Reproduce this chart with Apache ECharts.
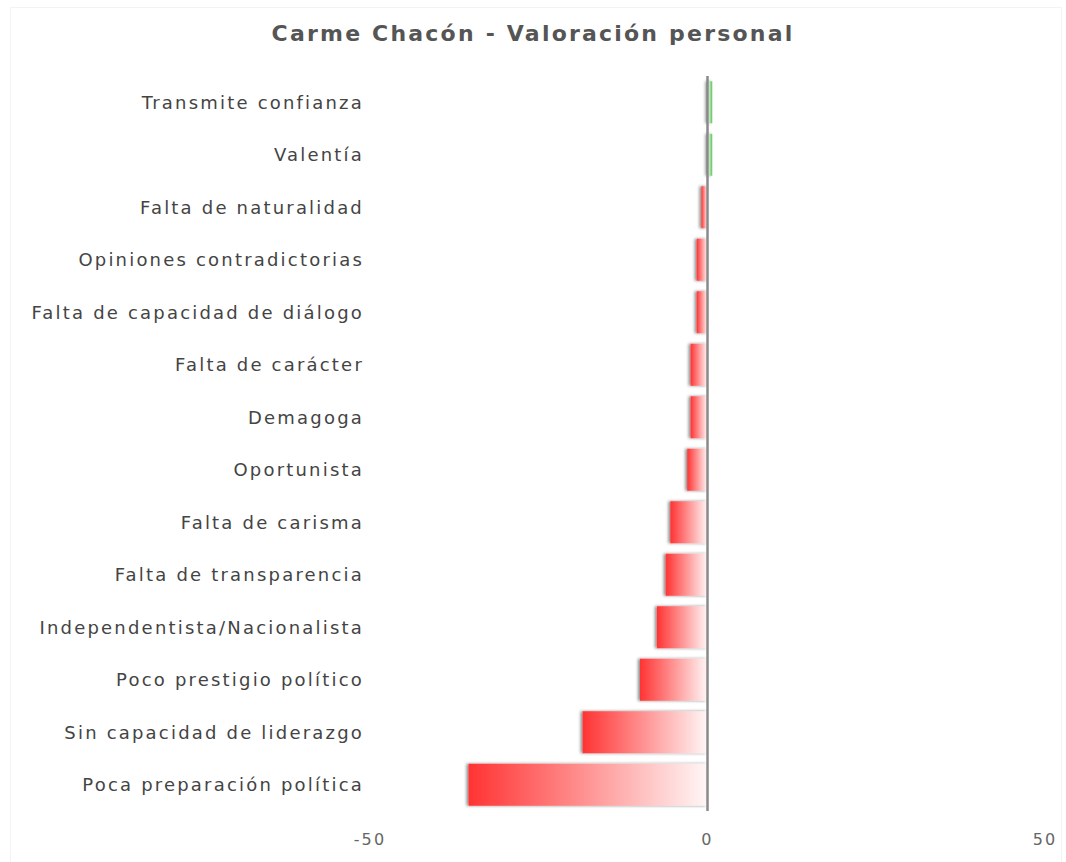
<!DOCTYPE html>
<html>
<head>
<meta charset="utf-8">
<script src="https://cdn.jsdelivr.net/npm/echarts@6/dist/echarts.min.js"></script>
<style>
html,body{margin:0;padding:0;background:#fff;}
#frame{position:absolute;left:10px;top:7px;width:1052px;height:860px;border:1px solid #f3f3f3;box-sizing:border-box;}
#chart{position:absolute;left:0;top:0;width:1066px;height:862px;}
#chart text{letter-spacing:2.2px;}
</style>
</head>
<body>
<div id="frame"></div>
<div id="chart"></div>
<script>
const categories = [
  'Transmite confianza',
  'Valentía',
  'Falta de naturalidad',
  'Opiniones contradictorias',
  'Falta de capacidad de diálogo',
  'Falta de carácter',
  'Demagoga',
  'Oportunista',
  'Falta de carisma',
  'Falta de transparencia',
  'Independentista/Nacionalista',
  'Poco prestigio político',
  'Sin capacidad de liderazgo',
  'Poca preparación política'
];
const values = [0.7, 0.7, -0.9, -1.6, -1.6, -2.5, -2.5, -3, -5.5, -6.2, -7.5, -10, -18.5, -35.4];
const xTicks = [-50, 0, 50];

const redGrad = new echarts.graphic.LinearGradient(0, 0, 1, 0, [
  {offset: 0, color: '#ff3333'},
  {offset: 1, color: '#fff6f6'}
]);
const greenGrad = new echarts.graphic.LinearGradient(0, 0, 1, 0, [
  {offset: 0, color: '#ffffff'},
  {offset: 1, color: '#5cc45c'}
]);

const chart = echarts.init(document.getElementById('chart'), null, {renderer: 'svg'});
chart.setOption({
  animation: false,
  backgroundColor: 'transparent',
  title: {
    text: 'Carme Chacón - Valoración personal',
    left: 'center',
    top: 17,
    textStyle: {fontFamily: 'DejaVu Sans', fontSize: 22, fontWeight: 'bold', color: '#555555'}
  },
  grid: {left: 370, right: 21, top: 76, bottom: 51},
  xAxis: {
    type: 'value',
    min: xTicks[0],
    max: xTicks[xTicks.length - 1],
    interval: 50,
    axisLine: {show: false},
    axisTick: {show: false},
    splitLine: {show: false},
    axisLabel: {fontFamily: 'DejaVu Sans', fontSize: 16, color: '#666666', margin: 20}
  },
  yAxis: {
    type: 'category',
    data: categories,
    inverse: true,
    axisLine: {show: false},
    axisTick: {show: false},
    splitLine: {show: false},
    axisLabel: {fontFamily: 'DejaVu Sans', fontSize: 18, color: '#444444', margin: 6}
  },
  series: [{
    type: 'bar',
    data: values.map(v => ({
      value: v,
      itemStyle: {
        color: v < 0 ? redGrad : greenGrad,
        shadowColor: 'rgba(0,0,0,0.45)',
        shadowBlur: 3,
        shadowOffsetX: -2,
        shadowOffsetY: 0
      }
    })),
    barCategoryGap: '20%',
    markLine: {
      silent: true,
      symbol: 'none',
      label: {show: false},
      lineStyle: {color: '#8a8a8a', width: 2.5, type: 'solid'},
      data: [{xAxis: 0}]
    }
  }]
});
</script>
</body>
</html>
